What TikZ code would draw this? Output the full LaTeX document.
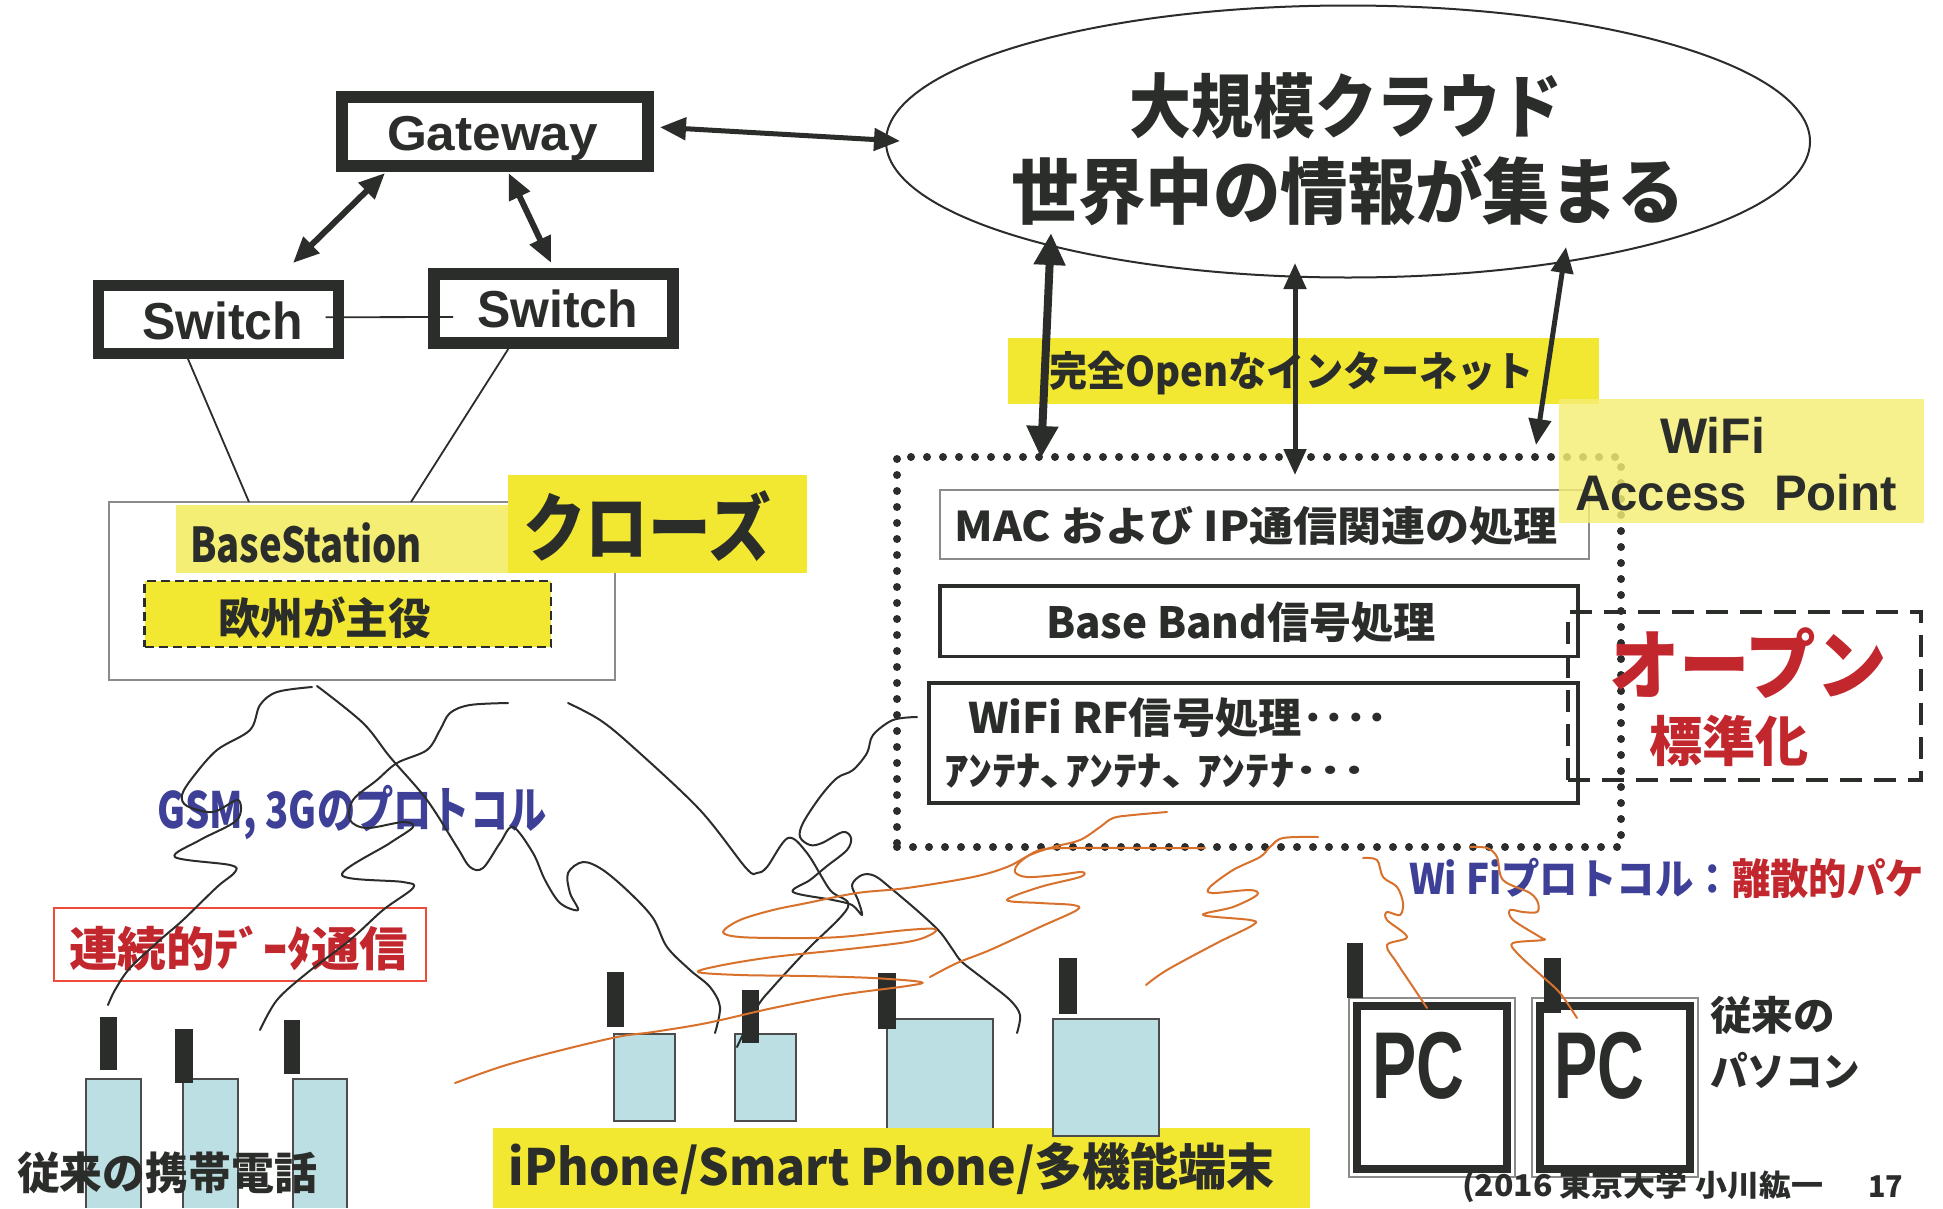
\documentclass[tikz,border=0pt]{standalone}
\usepackage{fontspec}
\usepackage{graphicx}
\setmainfont{Liberation Sans}
\newfontfamily\jp{Noto Sans CJK JP}
\usetikzlibrary{arrows.meta,calc,shapes.geometric}

\definecolor{ink}{HTML}{2B2D2B}
\definecolor{ybright}{HTML}{F2E832}
\definecolor{ylight}{HTML}{F5EE74}
\definecolor{phonefill}{HTML}{BCDFE3}
\definecolor{jred}{HTML}{C2272D}
\definecolor{boxred}{HTML}{EE4B3B}
\definecolor{jblue}{HTML}{3D4096}
\definecolor{wire}{HTML}{D8712C}

% size, target width, text: text set at a size and squeezed to a width
\newcommand\fw[3]{\fontsize{#1pt}{#1pt}\selectfont\resizebox{#2pt}{\height}{#3}}

\tikzset{
  lbl/.style={inner sep=0pt, outer sep=0pt, anchor=center, text=ink},
  jpb/.style={lbl, font=\jp\bfseries},
  lat/.style={inner sep=0pt, outer sep=0pt, anchor=base, text=ink, font=\bfseries},
  netbox/.style={draw=ink, fill=white, rectangle, inner sep=0pt},
  thinbox/.style={draw=ink!55, line width=1.5pt, rectangle, inner sep=0pt},
  plate/.style={rectangle, inner sep=0pt, draw=none},
  link/.style={draw=ink, line width=1.8pt},
  dbl/.style={draw=ink, line width=#1,
    {Triangle[length=26pt,width=22pt]}-{Triangle[length=26pt,width=22pt]}},
  bigdbl/.style={draw=ink, line width=#1,
    {Triangle[length=32pt,width=30pt]}-{Triangle[length=32pt,width=30pt]}},
  antenna/.style={fill=ink, draw=none},
  handset/.style={fill=phonefill, draw=ink!85, line width=2pt},
  bw/.style={draw=ink, line width=2pt, line cap=round, line join=round},
  ow/.style={draw=wire, line width=2pt, line cap=round, line join=round},
}

\begin{document}
\begin{tikzpicture}[x=1pt,y=-1pt]
\useasboundingbox (0,0) rectangle (1943,1208);
\fill[white] (0,0) rectangle (1943,1208);

% ---------------- cellular network (left) ----------------
\node[thinbox, minimum width=506pt, minimum height=178pt] (bs) at (362,591) {};
\node[plate, fill=ylight, minimum width=333.5pt, minimum height=68pt] (bsy) at (342.25,539) {};
\node[plate, fill=ybright, minimum width=299pt, minimum height=98pt] (close) at (657.5,524) {};
\node[draw=ink, fill=ybright, line width=2.5pt, dash pattern=on 9pt off 5pt, inner sep=0pt,
      minimum width=406.5pt, minimum height=66pt] (eu) at (347.75,614) {};
\node[jpb] (bst) at (306,542.5) {\fw{48}{231.5}{BaseStation}};
\node[jpb] (closet) at (647,526.5) {\fw{74}{247.5}{クローズ}};
\node[jpb] (eut) at (324.5,617.5) {\fw{43}{213}{欧州が主役}};

\node[netbox, line width=12pt, minimum width=306pt, minimum height=68.5pt] (gw) at (494.5,131.25) {};
\node[netbox, line width=11pt, minimum width=240pt, minimum height=68.5pt] (lsw) at (218,319.25) {};
\node[netbox, line width=12pt, minimum width=239.5pt, minimum height=69pt] (rsw) at (553.25,308.5) {};
\node[lat] (gwt) at (492.5,150) {\fw{49}{211}{Gateway}};
\node[lat] (lswt) at (222.5,339) {\fw{52}{161}{Switch}};
\node[lat] (rswt) at (557.5,327) {\fw{52}{161}{Switch}};

\draw[link] ($(lsw.east)+(-18,-2)$) -- ($(rsw.west)+(25.5,8.5)$);
\draw[link] ($(lsw.south)+(-30,0)$) -- ($(bs.north)+(-113,0.75)$);
\draw[link] ($(rsw.south)+(-45,0)$) -- ($(bs.north)+(49,0.75)$);
\draw[dbl=6pt] ($(gw.south)+(-109.5,1.5)$) -- ($(lsw.north)+(75,-16.5)$);
\draw[dbl=6pt] ($(gw.south)+(14,1.5)$) -- ($(rsw.north)+(-2,-5)$);

% ---------------- cloud ----------------
\node[draw=ink, line width=2pt, ellipse, inner sep=0pt, minimum width=924pt, minimum height=272pt] (cloud) at (1348,141.5) {};
\node[jpb] (cl1) at (1346,106) {\fw{70}{433}{大規模クラウド}};
\node[jpb] (cl2) at (1348,190.5) {\fw{72}{674}{世界中の情報が集まる}};
\draw[dbl=5pt] ($(gw.east)+(6.5,-4)$) -- ($(cloud.west)+(15,-0.5)$);

% ---------------- WiFi access point (right) ----------------
\node[plate, fill=ybright, minimum width=591.2pt, minimum height=66pt] (inet) at (1303.1,371) {};
\node[jpb] (inett) at (1291.75,373.5) {\fw{41}{484.5}{完全Openなインターネット}};

\node[draw=ink, line width=8pt, dash pattern=on 0pt off 16pt, line cap=round, rectangle, inner sep=0pt,
      minimum width=724pt, minimum height=390pt] (ap) at (1259,652) {};
\node[thinbox, fill=white, minimum width=649pt, minimum height=69pt] (mac) at (1264.5,524.5) {};
\node[netbox, line width=3.5pt, minimum width=638pt, minimum height=70.7pt] (bb) at (1259,621.35) {};
\node[netbox, line width=3.5pt, minimum width=649pt, minimum height=120pt] (rf) at (1253.5,743) {};
\node[plate, fill=ylight, fill opacity=0.82, minimum width=365pt, minimum height=124pt] (apl) at (1741.5,461) {};

\node[jpb] (mact) at (1256.3,526.5) {\fw{41}{603.4}{MAC および IP通信関連の処理}};
\node[jpb] (bbt) at (1241,622) {\fw{43}{390}{Base Band信号処理}};
\node[jpb] (rft) at (1178.25,717.5) {\fw{42}{420.5}{WiFi RF信号処理････}};
\node[jpb] (antt) at (1155.5,771.5) {\fw{40}{423}{ｱﾝﾃﾅ､ｱﾝﾃﾅ､ ｱﾝﾃﾅ･･･}};
\node[lat] (apt1) at (1712.5,453) {\fw{50}{105}{WiFi}};
\node[lat] (apt2) at (1736,510) {\fw{50}{322}{Access\ \ Point}};

\draw[bigdbl=8pt] ($(cloud.center)+(-297,91.5)$) -- ($(ap.north)+(-218,5)$);
\draw[dbl=5pt] ($(cloud.center)+(-53,121.5)$) -- ($(ap.north)+(36,22)$);
\draw[dbl=5pt] ($(cloud.center)+(218,105.5)$) -- ($(ap.north)+(277,-8)$);

\node[draw=ink, line width=4pt, dash pattern=on 22pt off 12pt, rectangle, inner sep=0pt,
      minimum width=353pt, minimum height=168pt] (std) at (1744.5,696) {};
\node[jpb, text=jred] (stdt1) at (1748,663.5) {\fw{76}{278}{オープン}};
\node[jpb, text=jred] (stdt2) at (1729.25,741) {\fw{54}{159.5}{標準化}};

% ---------------- protocol labels ----------------
\node[jpb, text=jblue] (gsm) at (352,812.5) {\fw{50}{389}{GSM, 3Gのプロトコル}};
\node[draw=boxred, line width=2pt, rectangle, inner sep=0pt, minimum width=372pt, minimum height=73pt] (cont) at (240,944.5) {};
\node[jpb, text=jred] (contt) at (238.75,948.5) {\fw{47}{339.5}{連続的ﾃﾞｰﾀ通信}};
\node[jpb, anchor=west] (wifip) at (1409,878.5) {\fw{42}{515}{{\color{jblue}Wi Fiプロトコル：}{\color{jred}離散的パケ}}};

% ---------------- handsets ----------------
\foreach \xa/\xb in {86/141, 183/238, 293/347}{
  \fill[phonefill] (\xa,1079) rectangle (\xb,1208);
  \draw[ink!85, line width=2pt] (\xa,1208) -- (\xa,1079) -- (\xb,1079) -- (\xb,1208);
}
\fill[antenna] (100,1017) rectangle (117,1070);
\fill[antenna] (175,1029) rectangle (192.5,1083);
\fill[antenna] (284,1020) rectangle (300,1074);
\node[jpb] (oldt) at (167,1172.5) {\fw{44}{300}{従来の携帯電話}};

\draw[handset] (614,1034) rectangle (675,1121);
\draw[handset] (735,1034) rectangle (796,1121);
\draw[handset] (886.5,1019) rectangle (992.5,1140);
\fill[antenna] (606.5,972) rectangle (623.5,1027);
\fill[antenna] (742,990) rectangle (759,1043);
\fill[antenna] (878,973) rectangle (895.5,1029);
\node[plate, fill=ybright, minimum width=817pt, minimum height=80pt] (spl) at (901.5,1168) {};
\node[jpb] (splt) at (892,1168.5) {\fw{50}{766}{iPhone/Smart Phone/多機能端末}};
\draw[handset] (1053,1019) rectangle (1158.5,1136);
\fill[antenna] (1059,958) rectangle (1077,1014);

% ---------------- personal computers ----------------
\node[thinbox, minimum width=166pt, minimum height=179pt] (pc1) at (1432,1087.5) {};
\node[draw=ink, line width=8pt, rectangle, inner sep=0pt, minimum width=150pt, minimum height=163pt] (pc1i) at (pc1.center) {};
\node[thinbox, minimum width=166pt, minimum height=179pt] (pc2) at (1615,1087.5) {};
\node[draw=ink, line width=8pt, rectangle, inner sep=0pt, minimum width=150pt, minimum height=163pt] (pc2i) at (pc2.center) {};
\fill[antenna] (1346.5,943) rectangle (1363,998);
\fill[antenna] (1544,958) rectangle (1561,1013);
\node[lat] (pc1t) at (1418,1098) {\fw{95}{92}{PC}};
\node[lat] (pc2t) at (1599,1098) {\fw{95}{90}{PC}};
\node[jpb, anchor=west] (pcl1) at (1710,1015.5) {\fw{40}{125}{従来の}};
\node[jpb, anchor=west] (pcl2) at (1710,1070) {\fw{40}{150}{パソコン}};

% ---------------- radio links: cellular (black) ----------------
\draw[bw] plot[smooth, tension=0.55] coordinates {(312,687) (277,692) (260,705) (250,730) (217,750) (193,777) (182,795) (187,806) (213,812) (238,800) (237,820) (200,840) (175,857) (230,865) (235,872) (217,887) (183,920) (160,940) (130,968) (115,990) (108,1005)};
\draw[bw] plot[smooth, tension=0.55] coordinates {(508,703) (470,705) (450,713) (440,730) (427,750) (397,763) (377,780) (353,800) (350,820) (367,828) (403,822) (413,827) (390,843) (342,875) (403,882) (413,888) (383,910) (350,940) (307,973) (277,1000) (260,1030)};
\draw[bw] plot[smooth, tension=0.55] coordinates {(317,686) (363,723) (390,757) (427,800) (457,847) (470,867) (483,868) (500,843) (513,827) (533,853) (545,880) (560,903) (578,910) (570,893) (568,873) (583,862) (603,870) (630,893) (653,918) (667,947) (690,970) (710,987) (720,1007) (715,1033)};
\draw[bw] plot[smooth, tension=0.55] coordinates {(568,703) (600,720) (633,747) (700,810) (746,868) (757,873) (767,867) (788,838) (807,853) (830,890) (848,907) (807,950) (773,987) (757,1007) (737,1047)};
\draw[bw] plot[smooth, tension=0.55] coordinates {(917,717) (893,720) (873,735) (867,753) (853,770) (837,778) (820,797) (803,823) (800,837) (810,845) (822,843) (843,832) (851,838) (847,850) (827,866) (810,880) (793,892) (833,900) (852,905) (862,915) (858,900) (852,885) (862,875) (875,876) (893,890) (920,913) (940,932) (953,950) (962,962) (985,980) (1010,1000) (1020,1015) (1017,1033)};

% ---------------- radio links: WiFi (orange) ----------------
\draw[ow] plot[smooth, tension=0.55] coordinates {(1167,812) (1133,815) (1113,818) (1100,827) (1080,840) (1053,847) (1030,855) (1007,867) (973,877) (907,888) (857,893) (807,903) (773,910) (740,920) (723,932) (740,937) (790,938) (840,937) (907,930) (935,929) (930,935) (907,942) (840,950) (773,957) (723,965) (698,972) (740,975) (807,976) (873,978) (921,982) (907,986) (840,995) (773,1008) (707,1023) (653,1032) (617,1037) (550,1053) (500,1067) (455,1083)};
\draw[ow] plot[smooth, tension=0.55] coordinates {(1318,837) (1283,838) (1270,847) (1260,857) (1233,870) (1210,887) (1212,893) (1250,890) (1257,895) (1233,907) (1203,915) (1250,920) (1253,925) (1217,943) (1167,970) (1146,985)};
\draw[ow] plot[smooth, tension=0.55] coordinates {(1205,848) (1160,848) (1073,848) (1040,850) (1020,862) (1015,872) (1027,877) (1057,875) (1082,872) (1080,877) (1040,887) (1007,900) (1040,903) (1073,905) (1077,910) (1040,927) (990,950) (957,963) (930,977)};
\draw[ow] plot[smooth, tension=0.55] coordinates {(1363,858) (1377,860) (1383,877) (1397,887) (1403,903) (1400,915) (1387,912) (1387,920) (1407,937) (1387,945) (1397,963) (1413,987) (1427,1008)};
\draw[ow] plot[smooth, tension=0.55] coordinates {(1470,847) (1487,848) (1497,857) (1503,880) (1530,893) (1538,903) (1537,912) (1523,912) (1510,910) (1513,920) (1540,937) (1543,940) (1513,943) (1517,953) (1543,977) (1560,993) (1577,1018)};

% ---------------- footer ----------------
\node[jpb, anchor=west] (foot) at (1462,1186.5) {\fw{30}{361}{(2016 東京大学 小川紘一}};
\node[jpb, anchor=west] (page) at (1868,1186.5) {\fw{30}{35}{17}};
\end{tikzpicture}
\end{document}
